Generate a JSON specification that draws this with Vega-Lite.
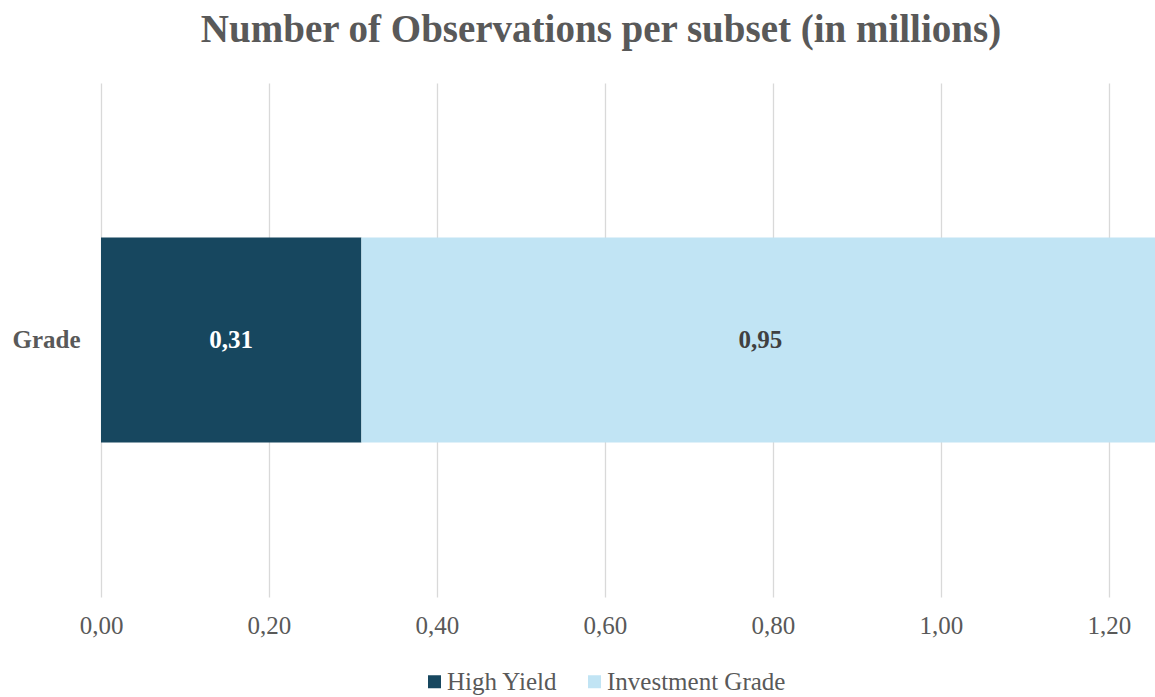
{
  "$schema": "https://vega.github.io/schema/vega-lite/v6.json",
  "autosize": "none",
  "padding": {"left": 101, "top": 83, "right": 0, "bottom": 100},
  "width": 1054,
  "height": 514,
  "background": "white",
  "title": {
    "text": "Number of Observations per subset (in millions)",
    "font": "Liberation Serif",
    "fontSize": 39,
    "fontWeight": "bold",
    "color": "#595959",
    "anchor": "middle",
    "dx": -27,
    "offset": 33
  },
  "data": {
    "values": [
      {"grade": "Grade", "subset": "High Yield", "rank": 1, "value": 0.31},
      {"grade": "Grade", "subset": "Investment Grade", "rank": 2, "value": 0.95}
    ]
  },
  "transform": [
    {"stack": "value", "groupby": ["grade"], "sort": [{"field": "rank", "order": "ascending"}], "as": ["v0", "v1"]},
    {"calculate": "(datum.v0 + datum.v1) / 2", "as": "mid"}
  ],
  "encoding": {
    "y": {
      "field": "grade",
      "type": "nominal",
      "title": null,
      "scale": {"padding": 0.43},
      "axis": {
        "ticks": false,
        "domain": false,
        "labelPadding": 21,
        "labelFont": "Liberation Serif",
        "labelFontSize": 25,
        "labelFontWeight": "bold",
        "labelColor": "#595959"
      }
    }
  },
  "layer": [
    {
      "mark": {"type": "bar", "clip": true},
      "encoding": {
        "x": {
          "field": "v0",
          "type": "quantitative",
          "title": null,
          "scale": {"domain": [0, 1.2548], "nice": false, "zero": true},
          "axis": {
            "values": [0, 0.2, 0.4, 0.6, 0.8, 1.0, 1.2],
            "format": ".2f",
            "domain": false,
            "ticks": false,
            "grid": true,
            "gridColor": "#d9d9d9",
            "gridWidth": 1.3,
            "labelPadding": 16,
            "labelFont": "Liberation Serif",
            "labelFontSize": 25,
            "labelColor": "#595959",
            "labelFlush": false
          }
        },
        "x2": {"field": "v1"},
        "color": {
          "field": "subset",
          "type": "nominal",
          "title": null,
          "sort": ["High Yield", "Investment Grade"],
          "scale": {"domain": ["High Yield", "Investment Grade"], "range": ["#17475f", "#c1e4f4"]},
          "legend": {
            "orient": "none",
            "direction": "horizontal",
            "legendX": 321,
            "legendY": 586,
            "symbolType": "square",
            "symbolSize": 169,
            "symbolStrokeWidth": 0,
            "labelFont": "Liberation Serif",
            "labelFontSize": 25,
            "labelColor": "#595959",
            "labelOffset": 0,
            "columnPadding": 24,
            "labelLimit": 400
          }
        }
      }
    },
    {
      "mark": {"type": "text", "font": "Liberation Serif", "fontSize": 25, "fontWeight": "bold", "baseline": "middle", "align": "center"},
      "encoding": {
        "x": {"field": "mid", "type": "quantitative"},
        "text": {"field": "value", "type": "quantitative", "format": ".2f"},
        "color": {
          "condition": {"test": "datum.subset === 'High Yield'", "value": "white"},
          "value": "#404040"
        }
      }
    }
  ],
  "config": {
    "locale": {
      "number": {"decimal": ",", "thousands": ".", "grouping": [3], "currency": ["", " €"]}
    },
    "view": {"stroke": null}
  }
}
